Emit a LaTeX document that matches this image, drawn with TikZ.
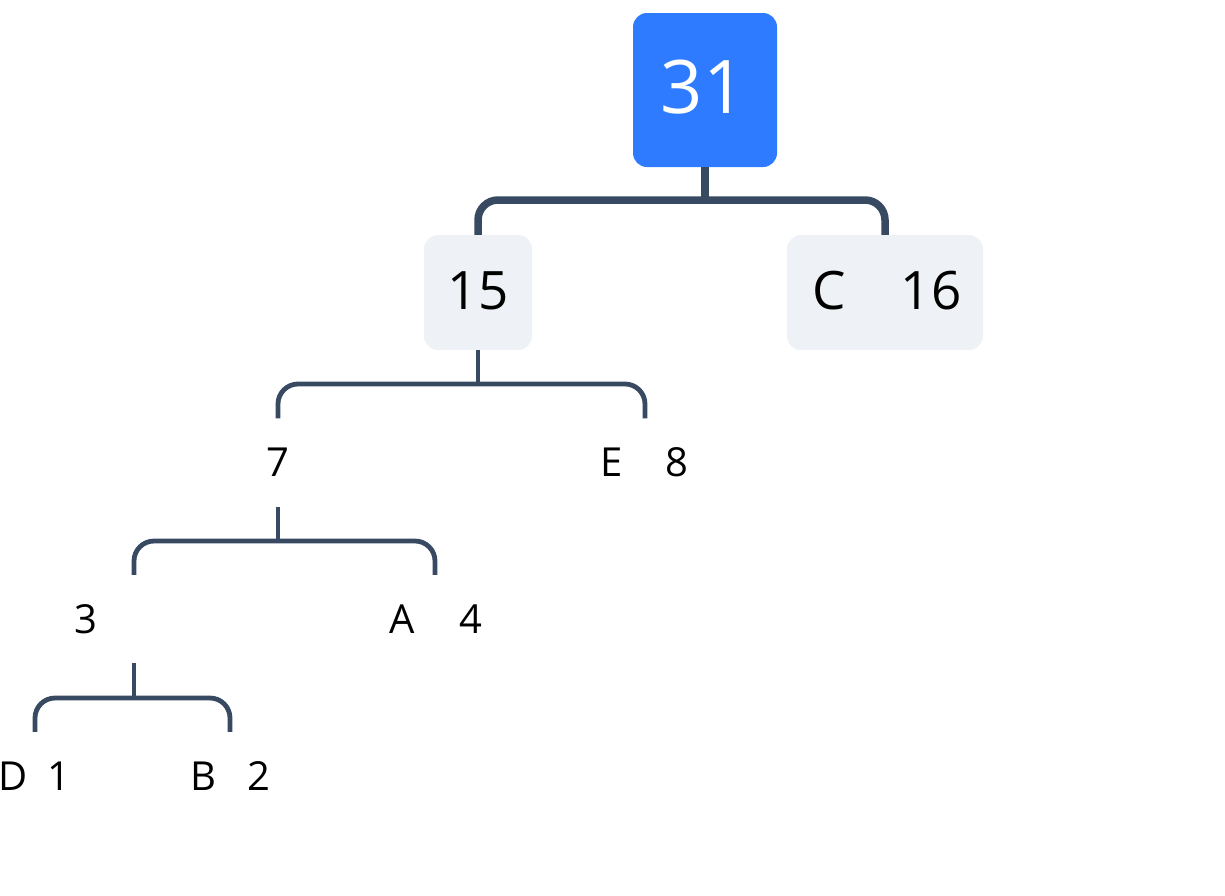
\documentclass[tikz,border=0pt]{standalone}
\usepackage{fontspec}
\setmainfont{Open Sans}
\definecolor{rootblue}{HTML}{2F7BFF}
\definecolor{boxgrey}{HTML}{EEF1F5}
\definecolor{linecol}{HTML}{374A62}
\tikzset{
  rootbox/.style={draw=none, fill=rootblue, rounded corners=14pt, minimum width=144pt, minimum height=154pt, inner sep=0pt},
  greybox/.style={draw=none, fill=boxgrey, rounded corners=14pt, minimum height=115pt, inner sep=0pt},
  leafbox/.style={draw=none, minimum width=60pt, minimum height=88pt, inner sep=0pt},
  bigtxt/.style={anchor=base, inner sep=0pt, text=white, font=\fontsize{74}{80}\selectfont},
  midtxt/.style={anchor=base, inner sep=0pt, text=black, font=\fontsize{53}{60}\selectfont},
  leaftxt/.style={anchor=base, inner sep=0pt, text=black, font=\fontsize{40}{46}\selectfont},
  connthick/.style={draw=linecol, line width=7.5pt, rounded corners=20pt},
  connthin/.style={draw=linecol, line width=4.8pt, rounded corners=20pt},
}
\begin{document}
\begin{tikzpicture}[x=1pt, y=-1pt]
\useasboundingbox (0,0) rectangle (1225,895);
% boxes
\node[rootbox] (root) at (705,90) {};
\node[greybox, minimum width=108pt] (n15) at (478,292.5) {};
\node[greybox, minimum width=196pt] (nC16) at (885,292.5) {};
\node[leafbox] (n7) at (278,462.5) {};
\node[leafbox] (nE8) at (645,462.5) {};
\node[leafbox] (n3) at (134,619) {};
\node[leafbox] (nA4) at (435,619) {};
\node[leafbox] (nD1) at (35,776) {};
\node[leafbox] (nB2) at (230,776) {};
% texts
\node[bigtxt] (t31) at (703,113) {31};
\node[midtxt] (t15) at (478,309) {15};
\node[midtxt] (tC) at (829,309) {C};
\node[midtxt] (t16) at (931,309) {16};
\node[leaftxt] (t7) at (278,476) {7};
\node[leaftxt] (tE) at (612,476) {E};
\node[leaftxt] (t8) at (677,476) {8};
\node[leaftxt] (t3) at (86,633) {3};
\node[leaftxt] (tA) at (402,633) {A};
\node[leaftxt] (t4) at (471,633) {4};
\node[leaftxt] (tD) at (13,790) {D};
\node[leaftxt] (t1) at (59,790) {1};
\node[leaftxt] (tB) at (203,790) {B};
\node[leaftxt] (t2) at (259,790) {2};
% junctions
\coordinate (j1) at (705,200);
\coordinate (j2) at (478,384);
\coordinate (j3) at (278,541);
\coordinate (j4) at (134,698);
% connectors
\draw[connthick] (root.south) -- (j1);
\draw[connthick] (n15.north) |- (j1) -| (nC16.north);
\draw[connthin] (n15.south) -- (j2);
\draw[connthin] (n7.north) |- (j2) -| (nE8.north);
\draw[connthin] (n7.south) -- (j3);
\draw[connthin] (n3.north) |- (j3) -| (nA4.north);
\draw[connthin] (n3.south) -- (j4);
\draw[connthin] (nD1.north) |- (j4) -| (nB2.north);
\end{tikzpicture}
\end{document}
